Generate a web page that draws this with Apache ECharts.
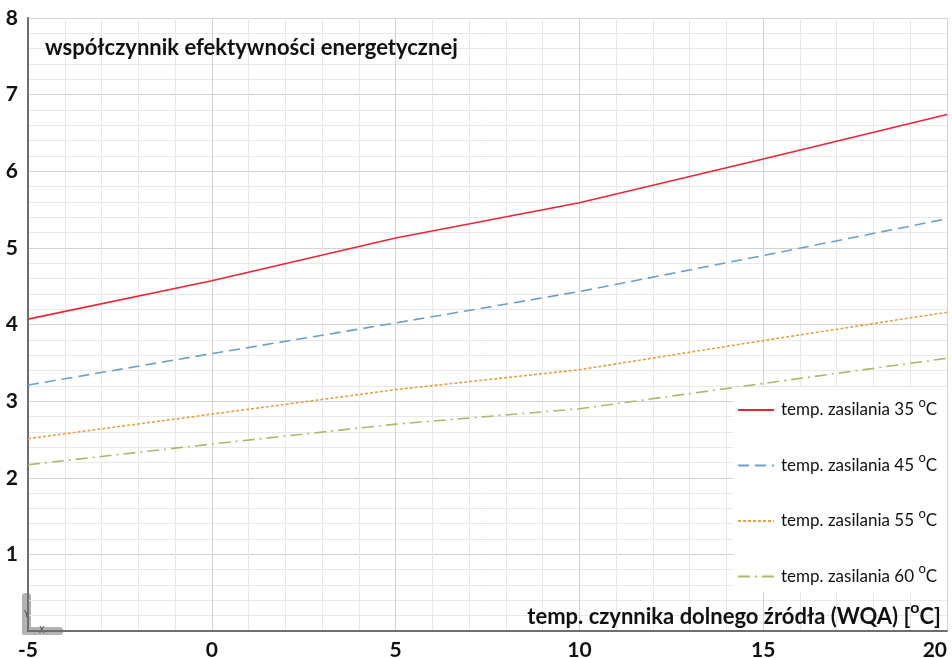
<!DOCTYPE html>
<html>
<head>
<meta charset="utf-8">
<script src="https://cdn.jsdelivr.net/npm/echarts@6/dist/echarts.min.js"></script>
<style>
  html, body { margin: 0; padding: 0; background: #ffffff; }
  #chart { width: 952px; height: 658px; }
</style>
</head>
<body>
<div id="chart"></div>
<script>
// Source temperature (°C) on the x axis
const sourceTemps = [-5, 0, 5, 10, 15, 20];

// Energy efficiency coefficient for each supply temperature
const cop35 = [4.07, 4.57, 5.13, 5.59, 6.16, 6.74];
const cop45 = [3.21, 3.62, 4.02, 4.43, 4.90, 5.38];
const cop55 = [2.51, 2.83, 3.15, 3.41, 3.79, 4.16];
const cop60 = [2.17, 2.44, 2.70, 2.90, 3.23, 3.56];

const seriesNames = [
  'temp. zasilania 35 {s|o}C',
  'temp. zasilania 45 {s|o}C',
  'temp. zasilania 55 {s|o}C',
  'temp. zasilania 60 {s|o}C'
];

const chartTitle = 'współczynnik efektywności energetycznej';
const xAxisTitle = 'temp. czynnika dolnego źródła (WQA) [{s|o}C]';

const FONT = 'Lato, "Open Sans", sans-serif';

function pairs(xs, ys) {
  return xs.map((x, i) => [x, ys[i]]);
}

const chart = echarts.init(document.getElementById('chart'), null, { renderer: 'canvas' });

const styles = [
  { color: '#ee2533', type: 'solid' },
  { color: '#6b9fc9', type: [11, 6] },
  { color: '#e3a23e', type: [3, 2] },
  { color: '#a8ba68', type: [12, 5, 2, 5] }
];

const seriesData = [cop35, cop45, cop55, cop60];

chart.setOption({
  animation: false,
  backgroundColor: '#ffffff',
  grid: { left: 28, right: 5, top: 18, bottom: 27, containLabel: false, outerBoundsMode: 'none' },
  title: [
    {
      text: chartTitle,
      left: 40,
      top: 32,
      textStyle: { fontFamily: FONT, fontWeight: 'bold', fontSize: 22, color: '#111111' }
    },
    {
      // x axis caption, sitting just above the axis line on the right
      text: xAxisTitle,
      right: 11,
      top: 600,
      padding: 0,
      textStyle: {
        fontFamily: FONT,
        fontWeight: 'bold',
        fontSize: 22,
        color: '#111111',
        lineHeight: 34,
        rich: {
          s: { fontFamily: FONT, fontWeight: 'bold', fontSize: 16, verticalAlign: 'top', lineHeight: 16 }
        }
      }
    }
  ],
  legend: {
    orient: 'vertical',
    left: 733,
    top: 387,
    width: 214,
    padding: [9, 10, 2, 4],
    backgroundColor: '#ffffff',
    itemWidth: 36,
    itemHeight: 14,
    itemGap: 27.5,
    data: seriesNames,
    itemStyle: { color: 'rgba(0,0,0,0)', borderWidth: 0, opacity: 0 },
    textStyle: {
      fontFamily: FONT,
      fontSize: 17,
      color: '#111111',
      lineHeight: 28,
      padding: [0, 0, 0, 2],
      rich: {
        s: { fontFamily: FONT, fontSize: 13, verticalAlign: 'top', lineHeight: 13 }
      }
    }
  },
  xAxis: {
    type: 'value',
    min: -5,
    max: 20,
    interval: 5,
    axisLine: { show: true, onZero: false, lineStyle: { color: '#6e6e6e', width: 2 } },
    axisTick: { show: false },
    axisLabel: {
      fontFamily: FONT, fontWeight: 'bold', fontSize: 21, color: '#111111', margin: 9,
      alignMaxLabel: 'right'
    },
    splitLine: { show: true, lineStyle: { color: '#d2d2d2', width: 1 } },
    minorTick: { show: false, splitNumber: 5 },
    minorSplitLine: { show: true, lineStyle: { color: '#e8e8e8', width: 1 } }
  },
  yAxis: {
    type: 'value',
    min: 0,
    max: 8,
    interval: 1,
    axisLine: { show: true, onZero: false, lineStyle: { color: '#6e6e6e', width: 2 } },
    axisTick: { show: false },
    axisLabel: {
      fontFamily: FONT, fontWeight: 'bold', fontSize: 21, color: '#111111', margin: 10,
      formatter: v => (v === 0 ? '' : String(v))
    },
    splitLine: { show: true, lineStyle: { color: '#d2d2d2', width: 1 } },
    minorTick: { show: false, splitNumber: 5 },
    minorSplitLine: { show: true, lineStyle: { color: '#e8e8e8', width: 1 } }
  },
  series: seriesNames.map((name, i) => ({
    name: name,
    type: 'line',
    symbol: 'none',
    smooth: false,
    data: pairs(sourceTemps, seriesData[i]),
    lineStyle: { color: styles[i].color, type: styles[i].type, width: 1.6 },
    itemStyle: { color: styles[i].color },
    z: 3
  })),
  graphic: [
    // axis orientation marker in the lower-left corner
    {
      type: 'group',
      left: 22,
      top: 593,
      z: 20,
      children: [
        { type: 'rect', shape: { x: 0, y: 0, width: 9, height: 42, r: 3 }, style: { fill: '#b3b3b3' } },
        { type: 'rect', shape: { x: 0, y: 34, width: 41, height: 8, r: 3 }, style: { fill: '#b3b3b3' } },
        { type: 'text', x: 2, y: 18, style: { text: 'Y', fontSize: 8, fontFamily: 'DejaVu Sans', fill: '#444444' } },
        { type: 'text', x: 17, y: 34, style: { text: 'X', fontSize: 8, fontFamily: 'DejaVu Sans', fill: '#444444' } }
      ]
    }
  ]
});
</script>
</body>
</html>
